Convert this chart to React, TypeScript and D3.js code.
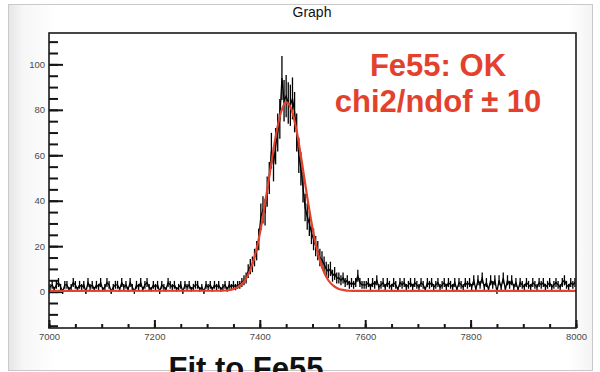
import * as d3 from 'd3';
import { useRef, useEffect } from 'react';

// histogram range and binning
const xMin = 7000;
const xMax = 8000;
const binWidth = 4;

const xTicks = [7000, 7200, 7400, 7600, 7800, 8000];
const yTicks = [0, 20, 40, 60, 80, 100];

// counts, 7000 - 7360
const countsLeft = [
  2, 3, 1, 3, 4, 2, 0, 3, 3, 1,
  2, 4, 3, 1, 3, 2, 3, 0, 4, 2,
  3, 1, 3, 2, 4, 1, 2, 4, 3, 0,
  2, 3, 3, 1, 4, 2, 3, 1, 4, 2,
  0, 3, 2, 4, 1, 3, 4, 2, 1, 3,
  2, 3, 0, 3, 2, 1, 4, 3, 2, 3,
  1, 2, 3, 0, 3, 2, 3, 1, 2, 3,
  3, 1, 2, 0, 3, 2, 3, 1, 3, 2,
  3, 1, 2, 3, 1, 3, 2, 3, 2, 3,
];

// counts, 7360 - 7600 (peak)
const countsPeak = [
  3, 4, 5, 6, 9, 11, 12, 15, 18, 23,
  33, 36, 35, 44, 50, 62, 56, 64, 70, 76,
  94, 84, 86, 83, 82, 85, 79, 70, 60, 54,
  46, 37, 33, 30, 26, 23, 20, 18, 15, 14,
  12, 10, 9, 10, 7, 8, 6, 6, 5, 6,
  4, 5, 3, 4, 3, 4, 7, 4, 3, 3,
];

// counts, 7600 - 8000
const countsRight = [
  3, 4, 2, 4, 3, 5, 2, 3, 4, 2,
  4, 3, 2, 4, 3, 1, 4, 3, 4, 2,
  3, 4, 2, 4, 3, 2, 4, 3, 1, 4,
  3, 4, 2, 3, 4, 2, 3, 4, 2, 4,
  3, 2, 4, 1, 4, 3, 2, 4, 3, 4,
  2, 5, 1, 5, 3, 6, 2, 4, 1, 5,
  3, 5, 0, 5, 2, 6, 1, 5, 3, 5,
  2, 4, 1, 4, 3, 2, 4, 3, 2, 4,
  3, 2, 4, 3, 4, 2, 3, 4, 2, 3,
  4, 3, 2, 4, 5, 3, 2, 4, 3, 4,
];

// fitted curve
const fitX = [7000, 7330, 7340, 7350, 7360, 7370, 7380, 7390, 7400, 7410, 7420, 7430, 7440, 7450,
  7460, 7470, 7480, 7490, 7500, 7510, 7520, 7530, 7540, 7550, 7560, 7570, 7580, 8000];
const fitY = [0.3, 0.4, 0.6, 1.1, 2.2, 4.4, 8.5, 15.3, 25.4, 38.7, 53.7, 68.1, 78.8, 83.3,
  80.3, 70.6, 56.7, 41.6, 27.9, 17.1, 9.6, 5.0, 2.5, 1.2, 0.7, 0.4, 0.3, 0.3];

const W = 600;
const H = 372;
const margin = { top: 33, right: 24, bottom: 44, left: 49 };
const red = '#e4412d';

const App = () => {
  const ref = useRef<SVGSVGElement>(null);

  useEffect(() => {
    if (!ref.current) return;
    const svg = d3.select(ref.current);
    svg.selectAll('*').remove();

    const x = d3.scaleLinear()
      .domain([xMin, xMax])
      .range([margin.left, W - margin.right]);
    const y = d3.scaleLinear()
      .domain([-16, 113.8])
      .range([H - margin.bottom, margin.top]);

    // canvas background
    const grad = svg.append('defs').append('linearGradient').attr('id', 'bg');
    grad.append('stop').attr('offset', '0').attr('stop-color', '#e6e6e6');
    grad.append('stop').attr('offset', '0.025').attr('stop-color', '#f6f6f6');
    grad.append('stop').attr('offset', '0.08').attr('stop-color', '#ffffff');
    grad.append('stop').attr('offset', '0.96').attr('stop-color', '#ffffff');
    grad.append('stop').attr('offset', '1').attr('stop-color', '#f3f3f3');
    svg.append('rect').attr('width', W).attr('height', H).attr('fill', '#fff');
    svg.append('rect')
      .attr('x', 8.5).attr('y', 4.5).attr('width', 584).attr('height', 366)
      .attr('fill', 'url(#bg)').attr('stroke', '#c9c9c9');

    // frame
    svg.append('rect')
      .attr('x', x(xMin)).attr('y', margin.top)
      .attr('width', x(xMax) - x(xMin)).attr('height', H - margin.bottom - margin.top)
      .attr('fill', '#fff');

    // axes
    const yMinor = d3.range(-15, 114, 5);
    const xMinor = d3.range(xMin, xMax + 1, 50);

    svg.append('g').attr('transform', `translate(${margin.left},0)`)
      .call(d3.axisLeft(y).tickValues(yMinor).tickSize(-9).tickFormat(() => ''));
    svg.append('g').attr('transform', `translate(${margin.left},0)`)
      .call(d3.axisLeft(y).tickValues(yTicks).tickSize(-14).tickPadding(4).tickFormat(d3.format('d')));
    svg.append('g').attr('transform', `translate(0,${H - margin.bottom})`)
      .call(d3.axisBottom(x).tickValues(xMinor).tickSize(-4).tickFormat(() => ''));
    svg.append('g').attr('transform', `translate(0,${H - margin.bottom})`)
      .call(d3.axisBottom(x).tickValues(xTicks).tickSize(-8).tickPadding(5).tickFormat(d3.format('d')));

    svg.selectAll('.domain').remove();
    svg.selectAll('.tick line').attr('stroke', '#151515').attr('stroke-width', 2);
    svg.selectAll('.tick text')
      .attr('fill', '#4a4a4a')
      .style('font-family', '"Liberation Sans", Arial, sans-serif')
      .style('font-size', '9.5px');

    // data points with error bars
    const counts = [...countsLeft, ...countsPeak, ...countsRight];
    const pts = counts.map((v, i) => ({
      x: xMin + (i + 0.5) * binWidth,
      v,
      e: Math.sqrt(Math.max(v, 1)),
    }));

    const plot = svg.append('g');
    plot.append('g')
      .selectAll('line')
      .data(pts)
      .join('line')
      .attr('x1', d => x(d.x)).attr('x2', d => x(d.x))
      .attr('y1', d => y(d.v - d.e)).attr('y2', d => y(d.v + d.e))
      .attr('stroke', '#000').attr('stroke-width', 1.3);

    const dataLine = d3.line<{ x: number; v: number }>()
      .x(d => x(d.x))
      .y(d => y(d.v));
    plot.append('path')
      .attr('d', dataLine(pts))
      .attr('fill', 'none').attr('stroke', '#000').attr('stroke-width', 1.3);

    // fit
    const fitLine = d3.line<number>()
      .x((_, i) => x(fitX[i]))
      .y(d => y(d))
      .curve(d3.curveMonotoneX);
    plot.append('path')
      .attr('d', fitLine(fitY))
      .attr('fill', 'none').attr('stroke', red).attr('stroke-width', 2.2);

    // frame border on top
    svg.append('rect')
      .attr('x', x(xMin)).attr('y', margin.top)
      .attr('width', x(xMax) - x(xMin)).attr('height', H - margin.bottom - margin.top)
      .attr('fill', 'none').attr('stroke', '#1a1a1a').attr('stroke-width', 1.6);

    // texts
    const font = '"Liberation Sans", Arial, Helvetica, sans-serif';
    svg.append('text')
      .attr('x', 312).attr('y', 17).attr('text-anchor', 'middle')
      .style('font-family', font).style('font-size', '14px').attr('fill', '#111')
      .text('Graph');
    svg.append('text')
      .attr('x', 438).attr('y', 76).attr('text-anchor', 'middle')
      .style('font-family', font).style('font-size', '31px').style('font-weight', 'bold')
      .attr('fill', red).text('Fe55: OK');
    svg.append('text')
      .attr('x', 438).attr('y', 112).attr('text-anchor', 'middle')
      .style('font-family', font).style('font-size', '31px').style('font-weight', 'bold')
      .attr('fill', red).text('chi2/ndof ± 10');
    // slide caption below the plot, cut off by the screenshot edge as in the source
    svg.append('text')
      .attr('x', 246).attr('y', 379).attr('text-anchor', 'middle')
      .style('font-family', font).style('font-size', '31px').style('font-weight', 'bold')
      .attr('fill', '#111').text('Fit to Fe55');
  }, []);

  return (
    <div style={{ position: 'fixed', left: 0, top: 0 }}>
      <svg ref={ref} width={W} height={H} style={{ display: 'block' }} />
    </div>
  );
};

export default App;
